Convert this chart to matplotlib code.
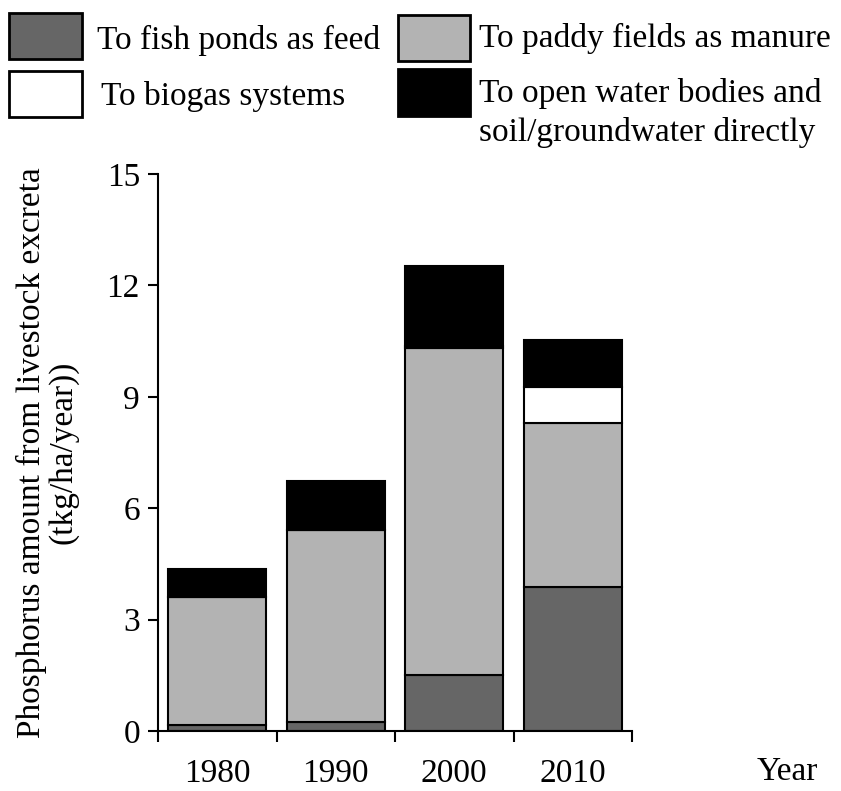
import matplotlib.pyplot as plt
import numpy as np
from matplotlib.patches import Rectangle

plt.rcParams['font.family'] = ['Liberation Serif', 'DejaVu Serif']

# datos -------------------------------------------------------------------
years = ['1980', '1990', '2000', '2010']
fish_ponds = [0.15, 0.25, 1.52, 3.88]
paddy_fields = [3.45, 5.17, 8.79, 4.41]
biogas = [0.0, 0.0, 0.06, 0.97]
open_water = [0.75, 1.30, 2.15, 1.27]

labels = ['To fish ponds as feed', 'To paddy fields as manure',
          'To biogas systems', 'To open water bodies and\nsoil/groundwater directly']
colors = ['#666666', '#b3b3b3', '#ffffff', '#000000']

W, H = 841, 791
fig = plt.figure(figsize=(W / 100, H / 100), dpi=100)
ax = fig.add_axes([158 / W, 1 - 731 / H, 474 / W, 557 / H])

x = np.arange(len(years))
bottom = np.zeros(len(years))
for vals, c in zip([fish_ponds, paddy_fields, biogas, open_water], colors):
    ax.bar(x, vals, width=0.83, bottom=bottom, color=c, edgecolor='black', linewidth=1.5)
    bottom += np.array(vals)

ax.set_xlim(-0.5, 3.5)
ax.set_ylim(0, 15)
ax.set_yticks([0, 3, 6, 9, 12, 15])
ax.set_xticks(np.arange(-0.5, 4, 1))
ax.set_xticklabels([])
ax.set_xticks(x, minor=True)
ax.set_xticklabels(years, minor=True)
ax.tick_params(axis='x', which='minor', length=0, pad=20, labelsize=24)
ax.tick_params(axis='x', which='major', length=8, width=1.5)
ax.tick_params(axis='y', length=7, width=1.5, labelsize=24, pad=6)
for s in ['top', 'right']:
    ax.spines[s].set_visible(False)
for s in ['left', 'bottom']:
    ax.spines[s].set_linewidth(1.5)

ax.set_ylabel('Phosphorus amount from livestock excreta\n(tkg/ha/year))', fontsize=24,
              linespacing=1.05, labelpad=20)
ax.set_xlabel('Year', fontsize=24)
ax.xaxis.set_label_coords(1.327, -0.074)
ax.xaxis.label.set_va('center')

# leyenda manual (cuadros y textos en pixeles de la figura)
boxes = [(9, 13, 73, 46), (398, 15, 72, 46), (9, 71, 73, 46), (398, 69, 72, 47)]
texts = [(97, 40), (479, 38), (101, 97), (479, 113)]
for (bx, by, bw, bh), (tx, ty), c, lab in zip(boxes, texts, colors, labels):
    fig.add_artist(Rectangle((bx / W, 1 - (by + bh) / H), bw / W, bh / H,
                             transform=fig.transFigure, facecolor=c,
                             edgecolor='black', linewidth=2))
    fig.text(tx / W, 1 - ty / H, lab, fontsize=24, ha='left', va='center',
             linespacing=1.3)

fig.savefig('out.png', dpi=100)
